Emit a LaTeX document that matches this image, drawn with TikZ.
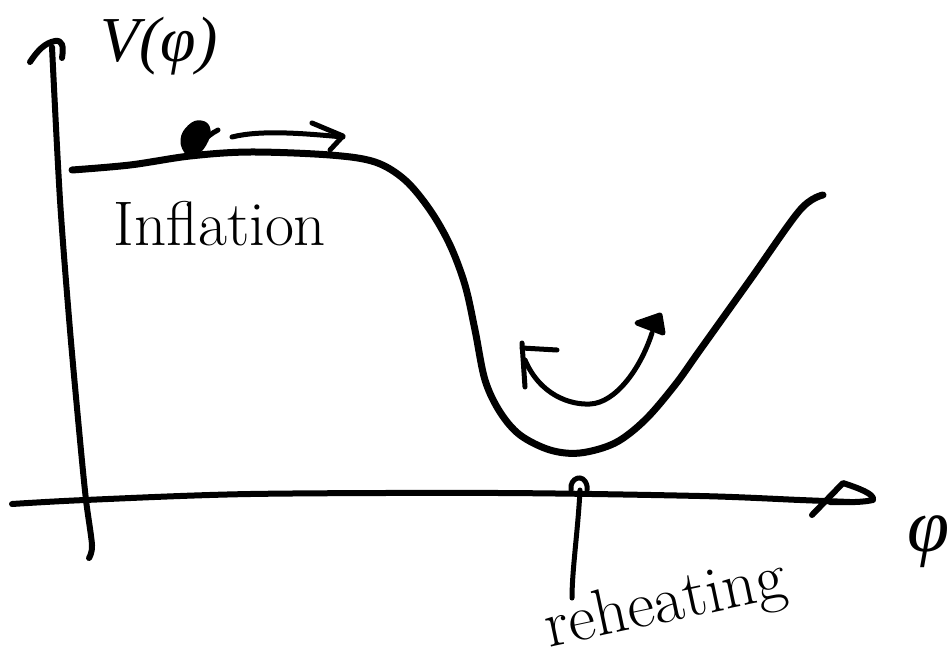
\documentclass[tikz,border=0pt]{standalone}
\usepackage{fontspec}
\newfontfamily\grfont{Liberation Serif}
\begin{document}
\begin{tikzpicture}[x=1pt,y=-1pt, line cap=round, line join=round,
  curve/.style={line width=7pt},
  axis/.style={line width=6pt},
  pen/.style={line width=5pt},
  lbl/.style={inner sep=0pt, anchor=center}]
\useasboundingbox (0,0) rectangle (949,661);
% y axis
\draw[axis] plot[smooth] coordinates {(52,47) (60,200) (70,330) (80,440) (86,500) (92,545) (89,558)};
\draw[axis] (30,62) .. controls (38,50) and (45,43) .. (55,41) .. controls (62,40) and (64,45) .. (62,58);
% x axis
\draw[axis] plot[smooth] coordinates {(12,504) (85,500) (250,494) (500,493) (700,496) (800,500) (850,502)};
\draw[axis] (812,515) -- (843,483) .. controls (858,488) and (875,494) .. (873,500) .. controls (860,503) and (840,502) .. (830,502);
% labels of axes
\node[lbl, font=\grfont\itshape\fontsize{64}{66}\selectfont] (V) at (159,46) {V(φ)};
\node[lbl, font=\grfont\itshape\fontsize{76}{80}\selectfont] (phi) at (929,542) {φ};
% potential
\draw[curve] plot[smooth, tension=0.55] coordinates {(72,170) (130,165) (190,156) (250,152) (330,155) (375,162) (405,180) (430,210) (450,245) (465,285) (475,330) (485,380) (500,412) (520,435) (550,450) (580,453) (615,443) (645,420) (675,385) (700,350) (750,280) (800,210) (823,195)};
% ball
\draw[pen, fill=black] plot[smooth cycle, tension=0.8] coordinates {(188,153) (183,140) (190,127) (201,123) (208,130) (204,144) (195,153)};
\draw[pen] (201,143) .. controls (207,137) and (212,133) .. (218,130);
\coordinate (ball) at (232,137);
\coordinate (balltip) at (343,137);
\draw[pen] (ball) .. controls (260,130) and (300,133) .. (balltip);
\draw[pen] (312,123) -- (343,136) -- (330,150);
% inflation label
\node[lbl, font=\fontsize{63}{64}\selectfont] (infl) at (220,224) {Inflation};
% oscillation arrow
\coordinate (oscL) at (525,360);
\coordinate (oscR) at (652,333);
\draw[pen] (oscL) .. controls (540,395) and (570,405) .. (590,404) .. controls (615,403) and (640,370) .. (oscR);
\draw[pen] (522,343) -- (525,387);
\draw[pen] (522,348) -- (557,350);
\draw[pen, fill=black] (637,323) -- (660,315) -- (663,333) -- cycle;
% reheating tick
\coordinate (tickTop) at (580,490);
\coordinate (tickBot) at (572,598);
\draw[pen] (571,490) .. controls (569,478) and (584,472) .. (587,486) -- (587,490);
\draw[pen] (tickTop) .. controls (578,530) and (572,570) .. (tickBot);
\node[lbl, rotate=12, font=\fontsize{66}{66}\selectfont] (reh) at (666,606) {reheating};
\end{tikzpicture}
\end{document}
